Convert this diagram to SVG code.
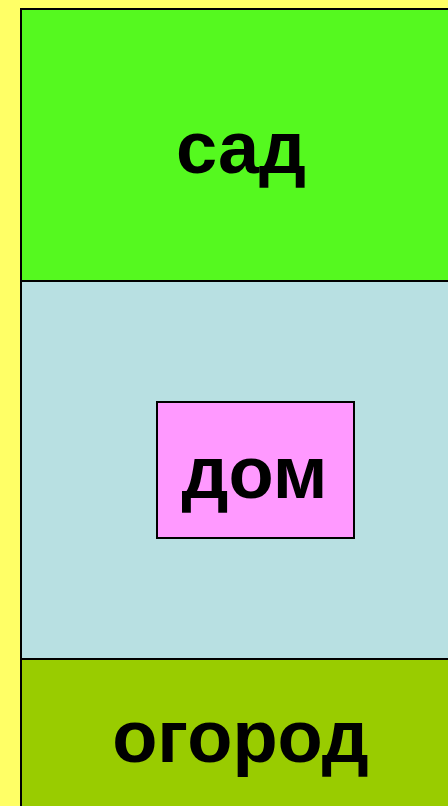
<svg xmlns="http://www.w3.org/2000/svg" width="448" height="806" viewBox="0 0 448 806">
<style>
.z{stroke:#000;stroke-width:2}
.t{font-family:"Liberation Sans",Arial,sans-serif;font-weight:bold;font-size:74px;text-anchor:middle;fill:#000}
</style>
<rect x="0" y="0" width="448" height="806" fill="#FFFF66"/>
<g id="sad"><rect class="z" x="21" y="9" width="440" height="272" fill="#55F91F"/><text class="t" x="241" y="173">сад</text></g>
<g id="dvor"><rect class="z" x="21" y="281" width="440" height="378" fill="#B8E0E2"/></g>
<g id="ogorod"><rect class="z" x="21" y="659" width="440" height="160" fill="#99CC00"/><text class="t" x="240.5" y="762">огород</text></g>
<g id="dom"><rect class="z" x="157" y="402" width="197" height="136" fill="#FF99FF"/><text class="t" x="254.5" y="498">дом</text></g>
</svg>
